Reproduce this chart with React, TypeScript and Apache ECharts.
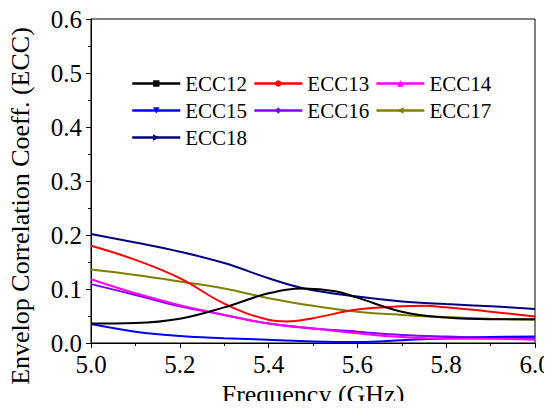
import React, { useEffect, useRef } from "react";
import * as echarts from "echarts";

// Frequency points (GHz) and envelope correlation coefficient values per port pair
const ecc12: [number, number][] = [
  [5.0, 0.036], [5.1, 0.037], [5.2, 0.045], [5.3, 0.066], [5.4, 0.092], [5.48, 0.101],
  [5.55, 0.096], [5.6, 0.084], [5.7, 0.058], [5.8, 0.047], [5.9, 0.044], [6.0, 0.044],
];
const ecc13: [number, number][] = [
  [5.0, 0.18], [5.1, 0.154], [5.2, 0.12], [5.3, 0.073], [5.4, 0.043], [5.44, 0.04],
  [5.5, 0.046], [5.6, 0.062], [5.7, 0.068], [5.75, 0.069], [5.8, 0.066], [5.9, 0.058], [6.0, 0.049],
];
const ecc14: [number, number][] = [
  [5.0, 0.118], [5.1, 0.092], [5.2, 0.07], [5.3, 0.052], [5.4, 0.036], [5.5, 0.027],
  [5.6, 0.018], [5.7, 0.011], [5.8, 0.008], [5.9, 0.008], [6.0, 0.006],
];
const ecc15: [number, number][] = [
  [5.0, 0.035], [5.1, 0.021], [5.2, 0.013], [5.3, 0.009], [5.4, 0.006], [5.5, 0.003],
  [5.6, 0.002], [5.7, 0.005], [5.8, 0.009], [5.9, 0.011], [6.0, 0.012],
];
const ecc16: [number, number][] = [
  [5.0, 0.109], [5.1, 0.089], [5.2, 0.068], [5.3, 0.052], [5.4, 0.036], [5.5, 0.027],
  [5.6, 0.021], [5.7, 0.015], [5.8, 0.012], [5.9, 0.01], [6.0, 0.009],
];
const ecc17: [number, number][] = [
  [5.0, 0.136], [5.1, 0.126], [5.2, 0.114], [5.3, 0.101], [5.4, 0.083], [5.5, 0.069],
  [5.6, 0.058], [5.7, 0.052], [5.8, 0.048], [5.9, 0.045], [6.0, 0.043],
];
const ecc18: [number, number][] = [
  [5.0, 0.202], [5.1, 0.186], [5.2, 0.169], [5.3, 0.148], [5.4, 0.12], [5.48, 0.101],
  [5.6, 0.086], [5.7, 0.077], [5.8, 0.072], [5.9, 0.068], [6.0, 0.063],
];

const seriesNames = ["ECC12", "ECC13", "ECC14", "ECC15", "ECC16", "ECC17", "ECC18"];
const seriesData = [ecc12, ecc13, ecc14, ecc15, ecc16, ecc17, ecc18];
const seriesColors = ["#000000", "#ff0000", "#ff00ff", "#0000ff", "#8000ff", "#808000", "#000080"];
const seriesSymbols = [
  "rect",
  "circle",
  "triangle",
  "path://M0,0 L10,0 L5,10 Z",
  "diamond",
  "path://M0,5 L10,0 L10,10 Z",
  "path://M0,0 L10,5 L0,10 Z",
];

const FONT = "Liberation Serif";

export default function App() {
  const ref = useRef<HTMLDivElement>(null);

  useEffect(() => {
    if (!ref.current) return;
    const chart = echarts.init(ref.current, undefined, { renderer: "svg" });

    const series = seriesNames.map((name, i) => ({
      name,
      type: "line",
      data: seriesData[i],
      smooth: 0.4,
      symbol: seriesSymbols[i],
      symbolSize: 8,
      showSymbol: false,
      lineStyle: { color: seriesColors[i], width: 2 },
      itemStyle: { color: seriesColors[i] },
      z: 10 - i,
    }));

    chart.setOption({
      animation: false,
      backgroundColor: "#ffffff",
      textStyle: { fontFamily: FONT },
      grid: {
        left: 91,
        right: 17,
        top: 19,
        bottom: 66,
        show: true,
        borderColor: "#000",
        borderWidth: 1,
        backgroundColor: "transparent",
        containLabel: false,
        outerBoundsMode: "none",
      },
      legend: {
        data: seriesNames,
        left: 131,
        top: 73,
        width: 380,
        itemWidth: 48,
        itemHeight: 8,
        itemGap: 6,
        lineStyle: { width: 2.5 },
        textStyle: { fontFamily: FONT, fontSize: 21, color: "#000", lineHeight: 19 },
        padding: 0,
      },
      xAxis: {
        type: "value",
        min: 5.0,
        max: 6.0,
        interval: 0.2,
        name: "Frequency (GHz)",
        nameLocation: "middle",
        nameGap: 31,
        nameTextStyle: { fontFamily: FONT, fontSize: 26, lineHeight: 26, color: "#000" },
        axisLine: { show: true, lineStyle: { color: "#000", width: 1 } },
        axisTick: { show: true, inside: false, length: 5, lineStyle: { color: "#000" } },
        minorTick: { show: true, splitNumber: 2, length: 3, lineStyle: { color: "#000" } },
        axisLabel: {
          fontFamily: FONT,
          fontSize: 25,
          color: "#000",
          margin: 9,
          formatter: (v: number) => v.toFixed(1),
        },
        splitLine: { show: false },
      },
      yAxis: {
        type: "value",
        min: 0,
        max: 0.6,
        interval: 0.1,
        name: "Envelop Correlation Coeff. (ECC)",
        nameLocation: "middle",
        nameGap: 58,
        nameTextStyle: { fontFamily: FONT, fontSize: 26, color: "#000", padding: [0, 50, 0, 0] },
        axisLine: { show: true, lineStyle: { color: "#000", width: 1 } },
        axisTick: { show: true, inside: false, length: 5, lineStyle: { color: "#000" } },
        minorTick: { show: true, splitNumber: 2, length: 3, lineStyle: { color: "#000" } },
        axisLabel: {
          fontFamily: FONT,
          fontSize: 25,
          color: "#000",
          margin: 9,
          formatter: (v: number) => v.toFixed(1),
        },
        splitLine: { show: false },
      },
      series,
    });

    return () => chart.dispose();
  }, []);

  return <div ref={ref} style={{ width: 552, height: 409, margin: -8 }} />;
}
